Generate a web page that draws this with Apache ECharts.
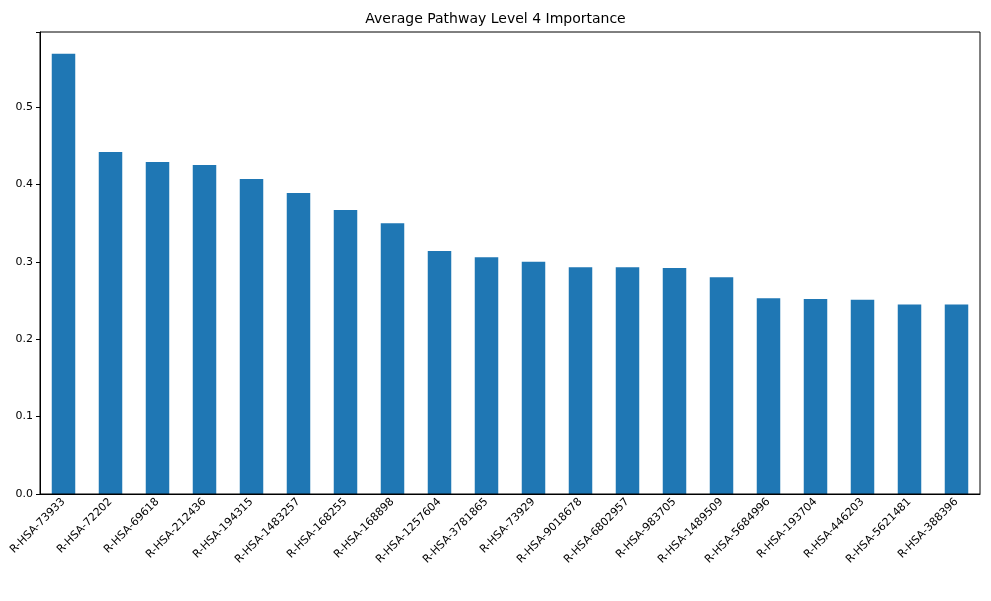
<!DOCTYPE html>
<html>
<head>
<meta charset="utf-8">
<script src="https://cdn.jsdelivr.net/npm/echarts@6/dist/echarts.min.js"></script>
<style>html,body{margin:0;padding:0;background:#fff}#chart{width:991px;height:601px}</style>
</head>
<body>
<div id="chart"></div>
<script>
// pathway ids on the x axis
var categories = ['R-HSA-73933', 'R-HSA-72202', 'R-HSA-69618', 'R-HSA-212436', 'R-HSA-194315',
    'R-HSA-1483257', 'R-HSA-168255', 'R-HSA-168898', 'R-HSA-1257604', 'R-HSA-3781865',
    'R-HSA-73929', 'R-HSA-9018678', 'R-HSA-6802957', 'R-HSA-983705', 'R-HSA-1489509',
    'R-HSA-5684996', 'R-HSA-193704', 'R-HSA-446203', 'R-HSA-5621481', 'R-HSA-388396'];
var importance = [0.569, 0.442, 0.429, 0.425, 0.407, 0.389, 0.367, 0.350, 0.314, 0.306,
    0.300, 0.293, 0.293, 0.292, 0.280, 0.253, 0.252, 0.251, 0.245, 0.245];
var yTicks = [0, 0.1, 0.2, 0.3, 0.4, 0.5];

var chart = echarts.init(document.getElementById('chart'));
var font = 'DejaVu Sans';
chart.setOption({
    animation: false,
    title: {
        text: 'Average Pathway Level 4 Importance',
        left: 'center', top: 7,
        textStyle: { fontFamily: font, fontSize: 14, fontWeight: 'normal', color: '#000' }
    },
    grid: { left: 40, right: 11, top: 32, bottom: 107 },
    xAxis: {
        type: 'category',
        data: categories,
        axisLine: { lineStyle: { color: '#000' } },
        axisTick: { alignWithLabel: true, length: 4, lineStyle: { color: '#000' } },
        axisLabel: { rotate: 45, interval: 0, fontFamily: font, fontSize: 11, color: '#000', margin: 6 }
    },
    yAxis: {
        type: 'value',
        min: 0, max: 0.597,
        interval: 0.1,
        axisLine: { show: true, lineStyle: { color: '#000' } },
        axisTick: { show: true, length: 4, lineStyle: { color: '#000' } },
        splitLine: { show: false },
        axisLabel: {
            fontFamily: font, fontSize: 11, color: '#000', margin: 7,
            formatter: function (v) { return yTicks.some(function (t) { return Math.abs(t - v) < 1e-9; }) ? v.toFixed(1) : ''; }
        }
    },
    series: [{
        type: 'bar',
        data: importance,
        barWidth: '50%',
        itemStyle: { color: '#1f77b4' }
    }],
    graphic: [{
        type: 'rect', shape: { x: 40, y: 32, width: 940, height: 462 },
        style: { fill: 'none', stroke: '#000', lineWidth: 1 }, silent: true, z: 100
    }]
});
</script>
</body>
</html>
